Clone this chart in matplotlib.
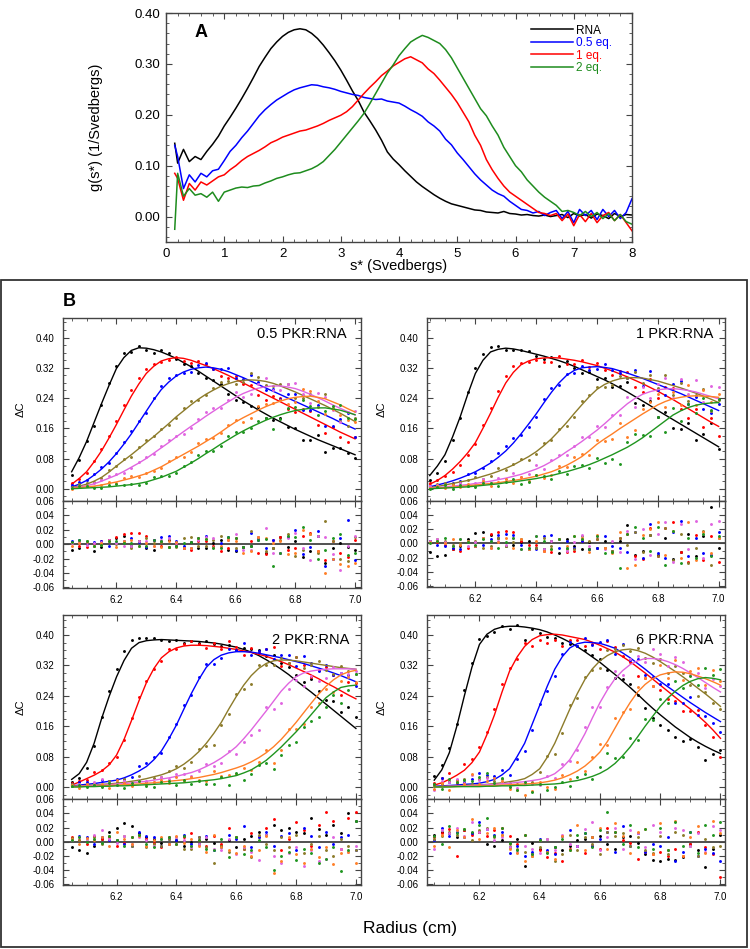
import matplotlib

matplotlib.use("Agg")
import matplotlib.pyplot as plt
import numpy as np
from matplotlib.patches import Rectangle
from matplotlib.ticker import FormatStrFormatter, MultipleLocator

plt.rcParams["font.family"] = ["Liberation Sans", "DejaVu Sans"]
plt.rcParams["axes.unicode_minus"] = False

W, H = 750, 949

# ---------------- panel A: g(s*) distributions ----------------
S_STAR = [0.15] + [round(0.2 + 0.1 * i, 1) for i in range(79)]

G_RNA = [0.144, 0.105, 0.132, 0.108, 0.118, 0.112, 0.128, 0.142, 0.158, 0.178,
         0.195, 0.213, 0.232, 0.252, 0.273, 0.295, 0.313, 0.330, 0.343, 0.354,
         0.362, 0.367, 0.369, 0.367, 0.360, 0.350, 0.337, 0.322, 0.306, 0.288,
         0.268, 0.247, 0.228, 0.205, 0.188, 0.170, 0.150, 0.127, 0.113, 0.102,
         0.090, 0.079, 0.068, 0.059, 0.051, 0.043, 0.036, 0.030, 0.025, 0.022,
         0.019, 0.016, 0.013, 0.012, 0.009, 0.008, 0.007, 0.010, 0.006, 0.005,
         0.003, 0.004, 0.002, 0.001, 0.003, 0.000, 0.002, 0.004, -0.002, 0.006,
         0.001, 0.004, -0.003, 0.005, 0.002, -0.004, 0.006, 0.000, 0.004, 0.003]
G_05EQ = [0.140, 0.118, 0.055, 0.082, 0.068, 0.085, 0.078, 0.090, 0.093, 0.110,
          0.128, 0.140, 0.155, 0.168, 0.183, 0.198, 0.210, 0.220, 0.229, 0.236,
          0.243, 0.249, 0.253, 0.256, 0.259, 0.258, 0.255, 0.253, 0.250, 0.246,
          0.243, 0.240, 0.238, 0.234, 0.232, 0.230, 0.231, 0.227, 0.225, 0.223,
          0.217, 0.210, 0.204, 0.197, 0.186, 0.178, 0.168, 0.152, 0.141, 0.125,
          0.112, 0.098, 0.084, 0.072, 0.062, 0.052, 0.045, 0.040, 0.030, 0.022,
          0.014, 0.012, 0.007, 0.010, 0.002, 0.008, 0.012, -0.004, 0.010, -0.012,
          0.014, 0.002, 0.012, -0.006, 0.014, 0.000, 0.012, -0.004, 0.008, 0.035]
G_1EQ = [0.085, 0.075, 0.032, 0.065, 0.052, 0.068, 0.062, 0.070, 0.078, 0.082,
         0.092, 0.100, 0.110, 0.118, 0.124, 0.130, 0.137, 0.145, 0.150, 0.156,
         0.160, 0.164, 0.168, 0.170, 0.174, 0.178, 0.183, 0.189, 0.194, 0.199,
         0.206, 0.216, 0.229, 0.242, 0.254, 0.265, 0.277, 0.286, 0.296, 0.303,
         0.310, 0.314, 0.308, 0.302, 0.290, 0.281, 0.268, 0.254, 0.240, 0.224,
         0.205, 0.186, 0.160, 0.140, 0.112, 0.092, 0.075, 0.060, 0.048, 0.040,
         0.032, 0.024, 0.016, 0.008, 0.006, 0.002, 0.006, -0.008, 0.005, -0.018,
         0.004, -0.010, 0.006, -0.012, 0.002, 0.008, -0.008, 0.004, -0.012, -0.028]
G_2EQ = [-0.025, 0.085, 0.040, 0.055, 0.042, 0.045, 0.038, 0.048, 0.030, 0.048,
         0.052, 0.056, 0.058, 0.057, 0.060, 0.061, 0.066, 0.070, 0.075, 0.078,
         0.082, 0.085, 0.086, 0.090, 0.094, 0.100, 0.108, 0.120, 0.132, 0.146,
         0.160, 0.174, 0.188, 0.203, 0.222, 0.242, 0.262, 0.282, 0.298, 0.316,
         0.330, 0.343, 0.350, 0.356, 0.352, 0.346, 0.340, 0.328, 0.312, 0.292,
         0.272, 0.252, 0.232, 0.212, 0.198, 0.178, 0.160, 0.136, 0.118, 0.100,
         0.088, 0.072, 0.060, 0.048, 0.038, 0.030, 0.022, 0.010, 0.012, 0.008,
         0.002, 0.010, 0.000, 0.008, -0.004, 0.006, -0.008, 0.004, -0.010, -0.015]

A_LABELS = ["RNA", "0.5 eq.", "1 eq.", "2 eq."]
A_COLORS = ["black", "#0000ff", "#ff0000", "#1e8c1e"]

# ---------------- panel B: sedimentation velocity fits ----------------
RADIUS = [round(6.05 + 0.025 * i, 3) for i in range(39)]
SCAN_COLORS = ["black", "#ff0000", "#0000ff", "#8c7b2a", "#e064e0", "#ff7f27", "#1f951f"]

# fitted boundaries (x 1e-3), one row per scan in SCAN_COLORS order
FIT_05 = [
    [45, 82, 125, 175, 225, 273, 318, 347, 366, 373, 372, 368, 362, 354, 345, 334, 323, 311, 298, 285, 272, 259, 246, 233, 221, 209, 198, 187, 177, 167, 157, 148, 139, 130, 122, 114, 106, 98, 90],
    [12, 27, 45, 71, 100, 134, 170, 208, 245, 277, 305, 324, 338, 344, 347, 345, 340, 333, 326, 318, 309, 300, 290, 280, 270, 260, 250, 240, 230, 220, 210, 200, 190, 180, 170, 160, 150, 141, 132],
    [5, 12, 22, 36, 52, 71, 93, 118, 145, 175, 205, 235, 262, 282, 298, 309, 316, 320, 322, 320, 316, 310, 302, 294, 285, 276, 267, 258, 249, 240, 231, 222, 213, 204, 195, 186, 176, 167, 158],
    [3, 7, 12, 20, 30, 44, 60, 75, 90, 106, 122, 138, 155, 172, 190, 206, 222, 237, 250, 261, 271, 278, 284, 287, 288, 287, 284, 279, 272, 264, 256, 247, 238, 229, 220, 210, 200, 189, 178],
    [2, 5, 8, 13, 20, 28, 36, 46, 57, 68, 80, 94, 108, 122, 137, 151, 165, 178, 192, 205, 218, 230, 242, 252, 260, 266, 270, 272, 272, 269, 265, 258, 250, 241, 232, 222, 213, 204, 195],
    [1, 3, 5, 7, 10, 14, 18, 23, 28, 34, 40, 49, 58, 69, 80, 91, 102, 113, 125, 137, 150, 164, 177, 188, 198, 208, 217, 225, 232, 238, 242, 244, 245, 242, 238, 230, 222, 212, 203],
    [0, 1, 2, 3, 4, 5, 7, 9, 11, 14, 18, 24, 30, 38, 46, 57, 68, 80, 93, 105, 118, 130, 142, 153, 163, 172, 181, 189, 196, 202, 207, 210, 213, 214, 214, 211, 208, 202, 196],
]
RES_05 = [
    [-8, -5, 2, -10, -4, 6, 8, 12, -3, 4, -6, -8, 4, 6, -2, -5, 3, -6, -5, 2, 6, -8, -10, -4, -2, 8, -12, -6, 10, -4, 4, -18, -10, 12, -26, -6, 2, -4, -8],
    [3, -2, -4, 2, 4, 6, 10, 14, 15, 16, 12, 6, -3, -4, 2, -6, -8, 4, 5, -2, -10, -6, 8, -4, 4, -12, -14, 6, 10, -8, -6, 12, 16, -10, -22, 4, -12, -18, 6],
    [4, 6, 1, 3, 5, -2, 2, 5, 8, 3, -4, 6, 10, 12, 4, -2, -6, 8, 12, -4, 2, 10, -8, -4, 15, 6, -6, 6, -12, 10, 20, -14, -4, 18, -30, -20, 8, 34, -22],
    [2, 5, 4, -2, -1, 5, 0, 3, -6, 4, 8, 2, 3, -4, -4, 8, 10, -2, -2, 6, 12, 8, -6, -4, 18, 10, -10, -6, 6, 14, -16, -8, 14, -12, 32, 4, -20, -24, 10],
    [1, 3, -1, 2, 3, 6, 2, -3, -3, 4, 4, -2, 6, 8, 2, -5, -5, 6, 10, 8, -4, 6, 14, -8, -8, 10, 22, -12, -12, 8, 16, -6, -22, 12, 10, -14, -36, -2, 12],
    [-2, 2, 3, -3, 1, 4, -4, 5, 6, -2, 2, -3, -4, 4, 3, -6, -5, 8, 7, -4, -3, 6, 5, -12, -10, 10, 8, 2, 4, -14, -12, 20, 14, -10, -40, -20, -28, -30, -26],
    [3, 6, 4, -2, -1, 4, 5, 1, 2, -3, -2, 6, 5, -4, -3, 2, 3, 8, 7, -6, -5, 10, 9, -4, -2, 6, 7, -30, -12, 12, 10, 24, 6, -20, -8, 8, 14, -15, -12],
]
FIT_1 = [
    [35, 60, 90, 137, 190, 250, 305, 340, 362, 369, 372, 370, 366, 361, 356, 351, 345, 339, 332, 324, 315, 306, 297, 288, 278, 267, 256, 244, 232, 220, 207, 195, 183, 171, 159, 147, 135, 123, 111],
    [12, 22, 35, 52, 72, 95, 122, 160, 200, 242, 280, 308, 328, 338, 344, 346, 347, 346, 343, 340, 336, 331, 326, 319, 312, 304, 296, 287, 278, 268, 258, 247, 236, 224, 212, 200, 188, 176, 165],
    [5, 10, 15, 21, 28, 36, 45, 56, 68, 83, 100, 121, 145, 171, 198, 227, 255, 280, 300, 313, 320, 322, 323, 321, 318, 312, 306, 299, 292, 284, 276, 268, 260, 252, 243, 234, 225, 216, 207],
    [3, 6, 10, 14, 18, 22, 27, 33, 39, 46, 54, 63, 74, 85, 98, 114, 132, 153, 175, 199, 222, 244, 263, 276, 285, 291, 294, 294, 293, 289, 285, 279, 273, 267, 260, 253, 245, 237, 228],
    [2, 3, 5, 7, 9, 11, 14, 17, 20, 24, 28, 33, 38, 45, 52, 61, 72, 84, 98, 111, 125, 140, 155, 172, 190, 208, 225, 239, 250, 257, 262, 264, 265, 263, 260, 256, 250, 244, 238],
    [1, 2, 3, 4, 6, 8, 10, 12, 14, 16, 19, 22, 25, 29, 33, 39, 45, 53, 62, 73, 85, 101, 118, 132, 145, 159, 172, 185, 198, 210, 222, 231, 238, 242, 245, 246, 245, 244, 242],
    [0, 1, 2, 3, 4, 5, 7, 9, 11, 13, 16, 18, 21, 24, 27, 31, 35, 40, 45, 51, 57, 64, 72, 81, 90, 100, 110, 122, 135, 150, 165, 180, 195, 206, 215, 221, 225, 227, 228],
]
RES_1 = [
    [-12, -18, -16, -8, -4, 6, 15, 16, 12, 8, -4, -2, 2, 4, -6, -8, 4, -14, 6, -4, -8, 2, -6, 4, -10, 4, 26, -16, -10, 12, -16, 8, -22, -12, 14, -18, 10, 52, -6],
    [4, 2, -2, -8, -10, -6, -4, 8, 14, 16, 18, 16, 4, -2, -2, -10, -12, 6, -12, -10, 4, -8, 6, -6, -12, 8, 14, -18, -22, 22, -18, 22, 30, -12, -26, 12, -24, 10, -26],
    [3, -2, -4, -6, -8, 2, -4, -2, 6, 12, 14, 12, -2, -8, -8, 10, 12, -6, 4, -6, 4, -8, -6, 10, -4, -6, -12, 16, -20, 28, -14, -20, 16, 32, -18, 8, -14, -16, 16],
    [2, 6, 4, -2, 0, 2, 4, -6, -4, 8, -4, 2, 6, -8, -6, 8, -4, 6, -8, -8, 10, 4, 6, -6, -10, 8, -2, 16, -12, 12, -18, 22, -24, 14, -28, -6, 18, -30, 8],
    [4, 6, 2, -4, 6, -4, 2, 8, -6, 4, -2, 8, -8, -6, 10, -8, 4, 6, -10, 2, 12, -4, 10, -8, 4, -12, 18, -22, 20, -16, 14, 30, -26, 28, -8, 32, -20, 28, 32],
    [2, 4, 0, 6, -2, 4, -4, 8, -6, 2, 8, -6, 6, -8, 4, -10, -8, 6, -4, 10, 8, -12, 12, -6, -14, 16, -34, -30, 12, 20, 30, -16, 18, -20, 30, -24, 16, -14, 8],
    [0, 3, 8, -4, 6, 2, -2, 6, 4, -6, 2, 8, -8, -6, 10, 4, -8, 6, -6, 10, 6, -8, 10, -14, -12, -34, 14, 24, 8, -10, 24, -30, 18, -28, 8, -20, 14, -18, 10],
]
FIT_2 = [
    [20, 35, 65, 115, 180, 238, 290, 333, 365, 380, 385, 387, 388, 387, 386, 385, 384, 383, 381, 379, 376, 372, 368, 362, 355, 346, 335, 323, 310, 296, 280, 265, 250, 234, 218, 202, 186, 170, 154],
    [5, 13, 22, 31, 42, 58, 84, 125, 175, 227, 275, 312, 340, 356, 366, 371, 373, 373, 372, 370, 368, 365, 362, 358, 354, 349, 344, 337, 330, 322, 313, 304, 295, 285, 274, 264, 253, 242, 232],
    [3, 5, 7, 9, 12, 15, 18, 24, 32, 42, 54, 72, 95, 127, 163, 205, 246, 283, 315, 335, 347, 353, 356, 356, 355, 352, 348, 344, 340, 335, 330, 325, 319, 313, 307, 300, 293, 285, 277],
    [2, 3, 4, 5, 7, 8, 10, 12, 15, 18, 22, 27, 32, 39, 48, 60, 75, 93, 115, 141, 170, 205, 238, 268, 293, 312, 325, 332, 334, 334, 332, 329, 326, 323, 320, 317, 314, 312, 310],
    [1, 2, 3, 4, 5, 6, 8, 9, 11, 13, 15, 18, 21, 24, 28, 33, 38, 45, 54, 64, 76, 90, 106, 127, 150, 175, 200, 226, 252, 273, 290, 300, 305, 308, 310, 311, 311, 311, 310],
    [1, 1, 2, 2, 3, 4, 5, 6, 7, 8, 10, 11, 13, 15, 17, 19, 22, 25, 29, 33, 38, 44, 50, 57, 66, 77, 90, 106, 125, 147, 170, 195, 220, 244, 265, 282, 295, 303, 307],
    [0, 0, 1, 1, 2, 2, 3, 3, 4, 5, 6, 7, 8, 9, 10, 11, 13, 15, 17, 19, 22, 26, 30, 37, 45, 57, 70, 87, 105, 125, 145, 167, 190, 213, 235, 250, 262, 266, 268],
]
RES_2 = [
    [-8, -12, -16, -6, 4, 14, 20, 26, 22, 12, 6, 4, -2, -4, 2, -6, 0, -4, 4, -2, -6, 2, -8, 4, 8, 14, 10, 24, 16, 20, 14, 12, 34, 18, 10, 24, 12, 40, 30],
    [6, 2, -4, 8, 4, 6, -6, -2, 6, 10, 4, -2, -8, 6, -4, 6, 12, 2, -6, 8, -4, 20, 6, -10, 12, 6, 20, 32, -12, 4, 28, 16, -6, 24, 42, 30, -10, 34, 42],
    [4, 8, 6, -3, 6, 2, 2, -4, -6, 14, 8, 6, -6, 4, 2, 10, -4, 6, 8, -12, -8, 10, 4, 22, -8, 6, 14, -6, 8, 12, -12, 20, 8, -8, 14, -4, 6, 10, -12],
    [5, 2, 4, 6, -4, 8, 3, 8, -6, 10, -8, -4, -6, 4, 6, -10, -10, 6, -8, -30, -6, -14, 6, -10, -22, 10, -4, -12, 6, -8, 10, -16, -4, 8, -12, -20, 4, -6, -12],
    [2, 6, 4, 10, 16, 4, -2, 8, -4, 6, 2, -6, 4, -4, 6, 2, -8, -4, 6, -10, -12, 4, -18, -8, -14, -26, 10, -20, -30, -16, -8, -34, -12, -28, -24, 6, -10, -14, -6],
    [4, -3, 5, 2, 6, -6, 14, 4, -4, 8, -6, 2, 6, -4, 8, -2, 4, -6, -14, 10, -8, -12, -16, -6, -20, -12, 8, -44, -28, 6, -18, -30, -10, -22, -8, -32, -16, -14, -30],
    [3, 6, 0, 4, -2, 8, 2, -6, 6, 10, -4, -8, 4, 6, -4, 8, -6, 2, -10, -12, 4, -22, 6, -18, -12, 2, -8, -40, -20, -14, -26, -10, -16, -30, -24, -8, -42, -12, 30],
]
FIT_6 = [
    [18, 45, 90, 160, 240, 315, 375, 402, 415, 421, 423, 423, 421, 418, 414, 408, 400, 391, 381, 369, 356, 342, 328, 312, 296, 279, 262, 244, 225, 207, 190, 174, 158, 144, 130, 118, 107, 97, 88],
    [5, 11, 20, 31, 44, 64, 92, 138, 190, 250, 305, 342, 370, 388, 398, 401, 402, 400, 396, 392, 388, 381, 373, 364, 355, 343, 330, 315, 300, 284, 268, 252, 236, 220, 205, 188, 170, 150, 128],
    [2, 3, 4, 5, 7, 8, 10, 14, 20, 32, 48, 80, 115, 165, 215, 265, 310, 343, 366, 377, 381, 380, 378, 372, 365, 353, 340, 325, 310, 294, 278, 264, 250, 236, 222, 209, 196, 184, 172],
    [1, 1, 2, 3, 4, 5, 6, 7, 9, 11, 14, 17, 22, 33, 48, 78, 115, 160, 205, 246, 283, 311, 332, 346, 356, 361, 363, 359, 352, 342, 330, 317, 304, 290, 275, 260, 245, 229, 212],
    [1, 1, 2, 2, 3, 4, 5, 6, 7, 8, 10, 12, 14, 17, 20, 26, 35, 51, 72, 104, 140, 182, 222, 256, 285, 306, 322, 332, 338, 338, 336, 330, 322, 312, 300, 288, 275, 262, 250],
    [1, 1, 1, 1, 2, 2, 3, 3, 4, 5, 6, 7, 8, 9, 11, 14, 18, 24, 32, 42, 55, 72, 92, 120, 155, 190, 222, 250, 270, 285, 295, 300, 303, 302, 298, 292, 285, 277, 268],
    [0, 0, 0, 1, 1, 1, 1, 2, 2, 3, 3, 4, 4, 5, 6, 7, 8, 10, 14, 17, 22, 28, 36, 47, 62, 82, 105, 132, 160, 186, 212, 234, 252, 267, 278, 285, 288, 286, 282],
]
RES_6 = [
    [10, 14, 12, 6, 16, 12, 14, -4, -6, 2, -8, 4, -34, -2, -10, -14, -8, -12, -6, 2, 4, 6, 8, -4, -10, 6, 8, -2, -18, -26, -28, -24, -26, -22, -4, -12, -36, -10, 10],
    [6, 12, 18, -20, 16, 10, 14, 8, 16, 20, 8, -4, 10, -18, -12, -22, -16, -28, -10, -6, -16, -6, -10, 20, 14, 2, -2, -24, -14, -18, -14, -20, -10, -20, -4, 14, -8, -18, -50],
    [2, 20, 8, 14, 6, 12, 28, 18, 10, 14, -16, -6, -20, -14, 4, -12, -18, 8, 16, -6, 12, -6, 4, 14, -14, 22, -6, 12, -14, -4, -6, 6, -28, -14, 14, -20, -10, -16, -28],
    [4, 8, 14, 10, 18, 2, 16, 20, 6, 10, -4, -10, -14, -20, -8, 4, -28, -18, 10, -12, 6, -4, -18, 14, 8, 12, -6, 6, -12, -16, 8, -18, 14, 10, -6, -20, 4, -8, -6],
    [-10, 16, 12, 20, 8, 28, 14, 18, 2, 6, -8, -14, -6, -10, -16, 4, -12, 10, -4, -6, 18, 28, -12, 6, 20, -10, 16, 12, -8, 24, 14, -12, 20, 16, -6, 12, -14, 22, 16],
    [-6, 10, -8, 16, 6, 32, 4, 12, 20, 10, -10, -16, -28, -20, 2, -14, -24, 8, -12, 24, -12, 6, 20, -10, 26, 8, -16, 14, 18, -18, 26, -12, 30, -20, 6, 22, -16, 30, 12],
    [8, -4, 22, 12, 18, 14, 24, 34, 8, 20, -2, -12, 10, -18, 2, -16, -8, 4, -12, 10, 12, -8, 16, 42, 14, -4, 24, -8, 18, -10, 20, -12, 28, -6, 14, -16, 24, 10, 28],
]

MAIN_TICKS = [0.00, 0.08, 0.16, 0.24, 0.32, 0.40]
RES_TICKS = [-0.06, -0.04, -0.02, 0.00, 0.02, 0.04, 0.06]

FRAME = "#444444"


def px_rect(left, top, right, bottom):
    return [left / W, 1 - bottom / H, (right - left) / W, (bottom - top) / H]


def style(ax, labelsize, pad):
    ax.tick_params(which="both", direction="in", top=True, right=True,
                   color=FRAME, labelsize=labelsize, pad=pad)
    ax.tick_params(which="major", length=4, width=0.8)
    ax.tick_params(which="minor", length=2, width=0.6)
    for sp in ax.spines.values():
        sp.set_color(FRAME)
        sp.set_linewidth(1.0)


fig = plt.figure(figsize=(W / 100, H / 100), dpi=100)

# ---- panel A ----
axA = fig.add_axes(px_rect(166, 13, 632, 242))
for vals, color, label in zip([G_RNA, G_05EQ, G_1EQ, G_2EQ], A_COLORS, A_LABELS):
    axA.plot(S_STAR, vals, color=color, lw=1.1, label=label)
axA.set_xlim(0, 8)
axA.set_ylim(-0.05, 0.40)
axA.xaxis.set_major_locator(MultipleLocator(1))
axA.xaxis.set_minor_locator(MultipleLocator(0.2))
axA.set_yticks([0.0, 0.1, 0.2, 0.3, 0.4])
axA.yaxis.set_minor_locator(MultipleLocator(0.02))
axA.yaxis.set_major_formatter(FormatStrFormatter("%.2f"))
style(axA, 9.5, 4)
axA.set_xlabel("s* (Svedbergs)", fontsize=10.5)
axA.xaxis.set_label_coords(0.5, -0.075)
axA.set_ylabel("g(s*) (1/Svedbergs)", fontsize=10.5)
axA.yaxis.set_label_coords(-0.135, 0.5)
axA.text(0.062, 0.915, "A", transform=axA.transAxes, fontsize=13,
         fontweight="bold", ha="left", va="center")
axA.legend(loc="upper left", bbox_to_anchor=(0.77, 0.975), frameon=False,
           fontsize=8.5, handlelength=3.6, handletextpad=0.25,
           labelspacing=0.04, borderpad=0, labelcolor="linecolor")

# ---- panel B ----
fig.patches.append(Rectangle((1 / W, 2 / H), 746 / W, 667 / H, transform=fig.transFigure,
                             fill=False, ec="#333333", lw=1.3))
fig.text(63 / W, 1 - 302 / H, "B", fontsize=13, fontweight="bold", ha="left", va="center")

panels = [
    ("0.5 PKR:RNA", FIT_05, RES_05, (62.7, 317.7, 361, 500.7, 588.3), (6.02, 7.02), (347, 334), -0.123),
    ("1 PKR:RNA", FIT_1, RES_1, (426.7, 317.7, 724.7, 500.7, 587.0), (6.04, 7.02), (713, 334), -0.133),
    ("2 PKR:RNA", FIT_2, RES_2, (62.7, 615, 361, 799, 885), (6.02, 7.017), (349, 640), -0.123),
    ("6 PKR:RNA", FIT_6, RES_6, (426.7, 615, 725, 799, 885), (6.025, 7.015), (713, 640), -0.133),
]

r = np.array(RADIUS)
for title, fits, ress, (l, t, rt, m, b), xlim, (tx, ty), ylab_x in panels:
    ax = fig.add_axes(px_rect(l, t, rt, m))
    axr = fig.add_axes(px_rect(l, m, rt, b))
    for fit, res, color in zip(fits, ress, SCAN_COLORS):
        fit = np.array(fit) / 1000.0
        res = np.array(res) / 1000.0
        ax.plot(r, fit, color=color, lw=1.0)
        ax.plot(r, fit + res, "o", color=color, ms=2.1, mew=0)
        axr.plot(r, res, "o", color=color, ms=2.1, mew=0)
    axr.axhline(0, color="#333333", lw=1.2, zorder=0)

    for a in (ax, axr):
        a.set_xlim(*xlim)
        a.xaxis.set_major_locator(MultipleLocator(0.2))
        a.xaxis.set_minor_locator(MultipleLocator(0.05))
        style(a, 7, 6)
    ax.set_ylim(-0.0316, 0.4526)
    ax.set_yticks(MAIN_TICKS)
    ax.set_yticklabels([f"{v:.2f}" for v in MAIN_TICKS])
    ax.yaxis.set_minor_locator(MultipleLocator(0.02))
    ax.tick_params(labelbottom=False)
    ax.set_ylabel("ΔC", fontsize=8)
    ax.yaxis.set_label_coords(ylab_x, 0.5)

    axr.set_ylim(-0.0615, 0.0605)
    axr.set_yticks(RES_TICKS)
    axr.set_yticklabels([f"{v:.2f}" for v in RES_TICKS])
    axr.yaxis.set_minor_locator(MultipleLocator(0.01))
    axr.xaxis.set_major_formatter(FormatStrFormatter("%.1f"))
    axr.tick_params(axis="x", pad=5)

    fig.text(tx / W, 1 - ty / H, title, fontsize=10.5, ha="right", va="center")

fig.text(410 / W, 1 - 929 / H, "Radius (cm)", fontsize=12.5, ha="center", va="center")

fig.savefig("out.png", dpi=100)
